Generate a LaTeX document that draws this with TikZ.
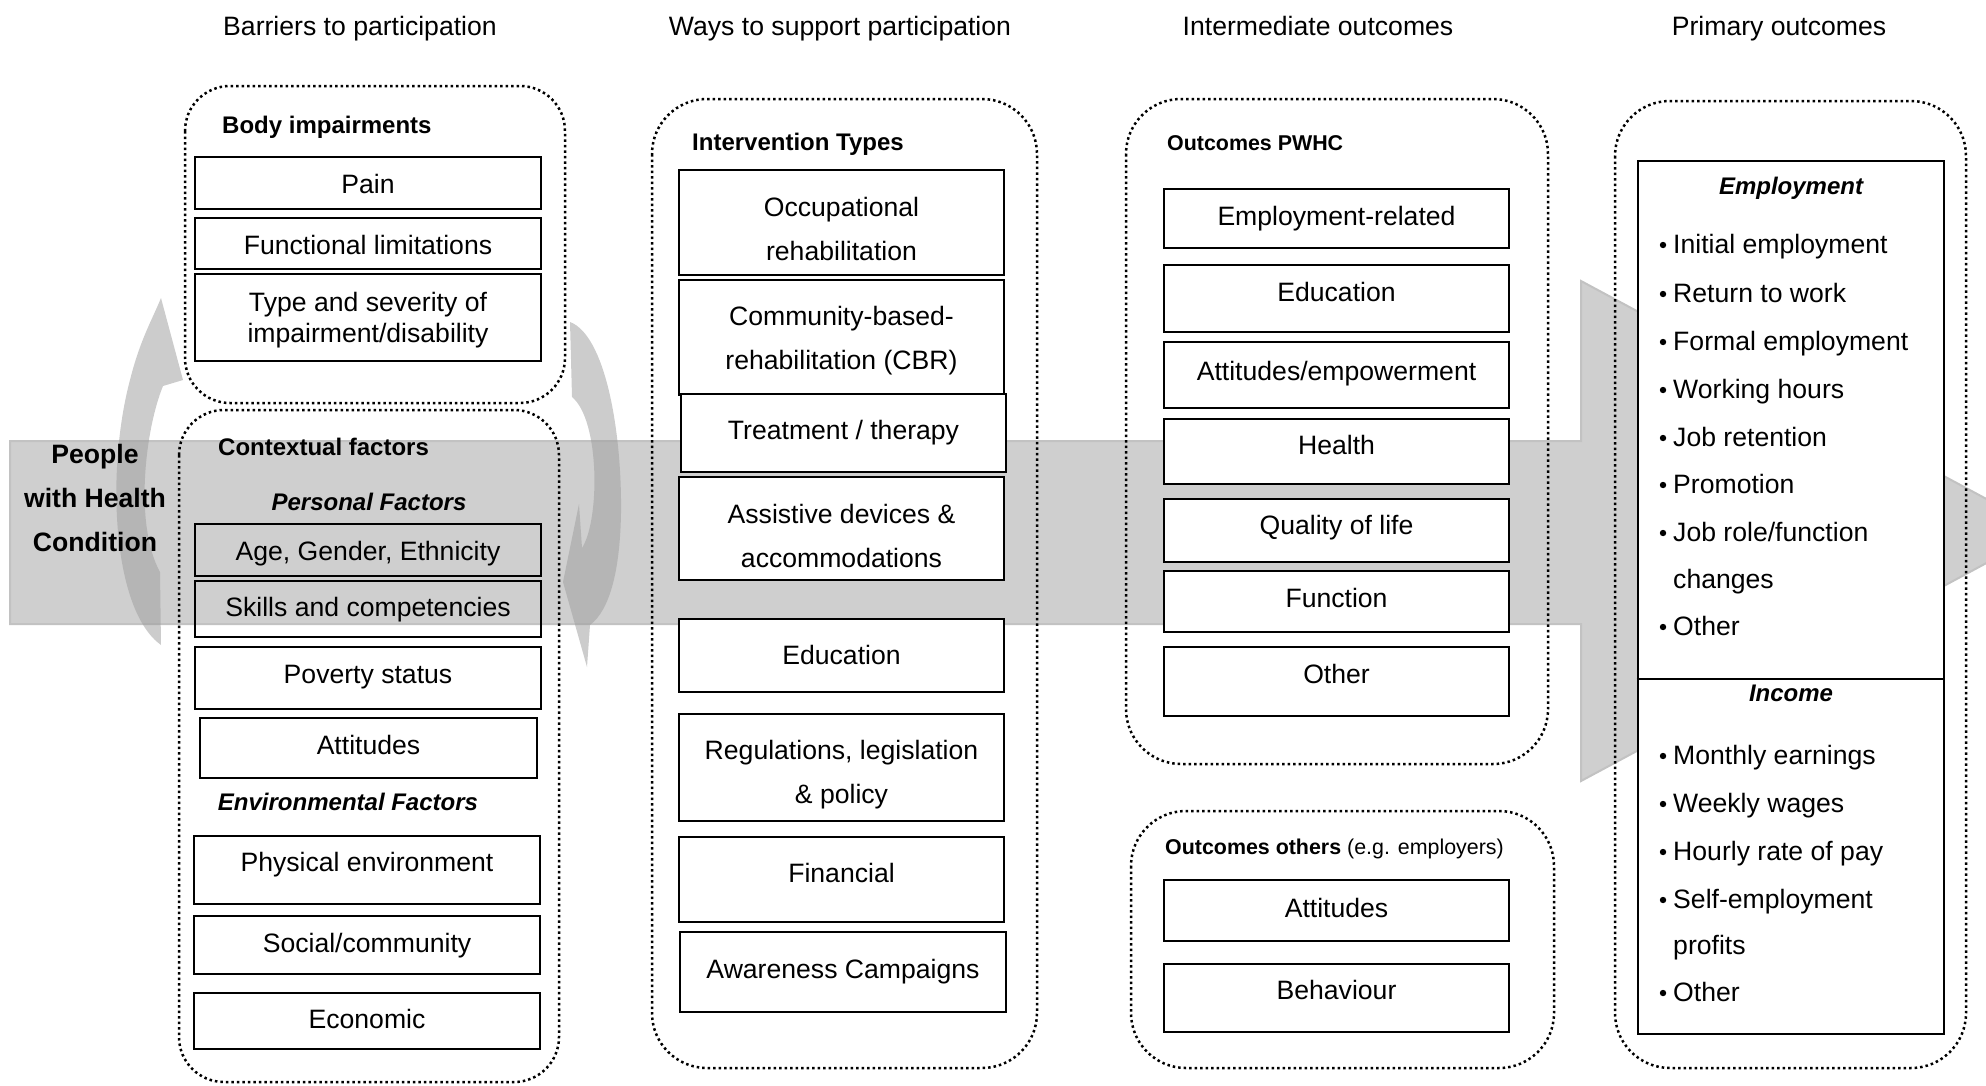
\documentclass[tikz,border=0pt]{standalone}
\usepackage{fontspec}
\setmainfont{Liberation Sans}

\newcommand{\fbody}{\fontsize{26.6}{44}\selectfont}
\newcommand{\fhead}{\fontsize{24}{29}\selectfont\bfseries}
\newcommand{\fsmall}{\fontsize{21.4}{26}\selectfont}

\tikzset{
  box/.style={draw, line width=2.8pt, fill=white, align=center, inner sep=0pt, font=\fbody},
  sline/.style={text height=19pt, text depth=5.6pt},
  txt/.style={font=\fbody, align=center, inner sep=0pt},
  grp/.style={draw, line width=2.5pt, dash pattern=on 2.5pt off 3pt, rounded corners=#1},
  grp/.default=55pt,
  hdr/.style={font=\fbody, inner sep=0pt, text height=19pt, text depth=5.6pt},
  lbl/.style={font=\fhead, inner sep=0pt, anchor=west, text height=17.5pt, text depth=5pt},
  sub/.style={font=\fhead\itshape, inner sep=0pt, text height=17.5pt, text depth=5pt},
  item/.style={font=\fbody, inner sep=0pt, anchor=west, text height=19pt, text depth=5.6pt},
  bigarrow/.style={fill=black!19, draw=black!24, line width=2pt},
  curvarrow/.style={fill=black!38, fill opacity=0.53},
}

\begin{document}
\begin{tikzpicture}[x=1pt,y=-1pt]
\clip (0,0) rectangle (1986,1085);

% background arrow
\filldraw[bigarrow] (10,441) -- (1581,441) -- (1581,281) -- (2046,531) -- (1581,781) -- (1581,624) -- (10,624) -- cycle;

% curved arrows
\fill[curvarrow] (161,298) -- (183,380) -- (163,386)
  .. controls (145,430) and (134,525) .. (160,572) -- (161,645)
  .. controls (112,610) and (106,470) .. (130,380)
  .. controls (140,340) and (152,320) .. (161,298) -- cycle;
\fill[curvarrow] (570,322) .. controls (605,335) and (622,430) .. (621,513)
  .. controls (620,570) and (610,610) .. (590,625)
  -- (587,667) -- (563,582) -- (579,504) -- (582,548)
  .. controls (600,520) and (600,420) .. (572,397) -- cycle;

\node[font=\fbody\bfseries, align=center, inner sep=0pt] (people) at (95,498) {People\\with Health\\Condition};

% column titles
\node[hdr] (t1) at (360,28.5) {Barriers to participation};
\node[hdr] (t2) at (840,28.5) {Ways to support participation};
\node[hdr] (t3) at (1318,28.5) {Intermediate outcomes};
\node[hdr] (t4) at (1779,28.5) {Primary outcomes};

% barriers
\draw[grp=45pt] (185,86) rectangle (565,403);
\draw[grp=45pt] (179,410) rectangle (559,1082);
\node[lbl] (bodyimp) at (222,127.5) {Body impairments};
\node[box, sline, minimum width=346pt, minimum height=52pt] (pain) at (368,183) {\raisebox{-4pt}{Pain}};
\node[box, sline, minimum width=346pt, minimum height=51pt] (funclim) at (368,243.5) {\raisebox{-4pt}{Functional limitations}};
\node[box, minimum width=346pt, minimum height=87pt] (typesev) at (368,317.5) {};
\node[txt, font=\fontsize{26.6}{30.5}\selectfont] (typesevt) at (368,320) {Type and severity of\\impairment/disability};
\node[lbl] (context) at (218,449.5) {Contextual factors};
\node[sub] (personal) at (369,504.5) {Personal Factors};
\node[box, sline, fill=none, minimum width=346pt, minimum height=52pt] (agegen) at (368,550) {\raisebox{-4pt}{Age, Gender, Ethnicity}};
\node[box, sline, fill=none, minimum width=346pt, minimum height=56pt] (skills) at (368,609) {\raisebox{-1pt}{Skills and competencies}};
\node[box, sline, minimum width=346pt, minimum height=62pt] (poverty) at (368,678) {\raisebox{1pt}{Poverty status}};
\node[box, sline, minimum width=337pt, minimum height=60pt] (attit) at (368.5,748) {Attitudes};
\node[sub] (environ) at (348,804.5) {Environmental Factors};
\node[box, sline, minimum width=346pt, minimum height=68pt] (physenv) at (367,870) {\raisebox{5pt}{Physical environment}};
\node[box, sline, minimum width=346pt, minimum height=58pt] (social) at (367,945) {\raisebox{-1pt}{Social/community}};
\node[box, sline, minimum width=346pt, minimum height=56pt] (econ) at (367,1021) {\raisebox{-1pt}{Economic}};

% ways to support
\draw[grp] (652,99) rectangle (1037,1068);
\node[lbl] (intervtypes) at (692,144.5) {Intervention Types};
\node[box, minimum width=325pt, minimum height=105pt] (occup) at (841.5,222.5) {};
\node[txt] (occupt) at (841.5,228.5) {Occupational\\rehabilitation};
\node[box, minimum width=325pt, minimum height=115pt] (cbr) at (841.5,337.5) {};
\node[txt] (cbrt) at (841.5,341) {Community-based-\\rehabilitation (CBR)};
\node[box, sline, minimum width=325pt, minimum height=78pt] (treat) at (843.5,433) {Treatment / therapy};
\node[box, minimum width=325pt, minimum height=103pt] (assist) at (841.5,528.5) {};
\node[txt] (assistt) at (841.5,536) {Assistive devices \&\\accommodations};
\node[box, sline, minimum width=325pt, minimum height=73pt] (educ) at (841.5,655.5) {\raisebox{-2.5pt}{Education}};
\node[box, minimum width=325pt, minimum height=107pt] (regul) at (841.5,767.5) {};
\node[txt] (regult) at (841.5,774.5) {Regulations, legislation\\\& policy};
\node[box, sline, minimum width=325pt, minimum height=85pt] (finance) at (841.5,879.5) {\raisebox{4pt}{Financial}};
\node[box, sline, minimum width=326pt, minimum height=80pt] (aware) at (843,972) {Awareness Campaigns};

% intermediate outcomes
\draw[grp] (1126,99) rectangle (1548,764);
\node[lbl, font=\fsmall\bfseries, text height=15.5pt, text depth=4.5pt] (pwhc) at (1167,144.5) {Outcomes PWHC};
\node[box, sline, minimum width=345pt, minimum height=59pt] (emprel) at (1336.5,218.5) {Employment-related};
\node[box, sline, minimum width=345pt, minimum height=67pt] (educo) at (1336.5,298.5) {\raisebox{4pt}{Education}};
\node[box, sline, minimum width=345pt, minimum height=66pt] (attemp) at (1336.5,375) {\raisebox{1pt}{Attitudes/empowerment}};
\node[box, sline, minimum width=345pt, minimum height=65pt] (health) at (1336.5,451.5) {\raisebox{4pt}{Health}};
\node[box, sline, minimum width=345pt, minimum height=63pt] (qol) at (1336.5,530.5) {\raisebox{2.5pt}{Quality of life}};
\node[box, sline, minimum width=345pt, minimum height=61pt] (funct) at (1336.5,601.5) {\raisebox{1pt}{Function}};
\node[box, sline, minimum width=345pt, minimum height=69pt] (othero) at (1336.5,681.5) {\raisebox{5pt}{Other}};
\draw[grp] (1131,811) rectangle (1554,1068);
\node[lbl, font=\fsmall, text height=15.5pt, text depth=4.5pt] (others) at (1165,848.5) {\textbf{Outcomes others} (e.g. employers)};
\node[box, sline, minimum width=345pt, minimum height=61pt] (attito) at (1336.5,910.5) {Attitudes};
\node[box, sline, minimum width=345pt, minimum height=68pt] (behav) at (1336.5,998) {\raisebox{5pt}{Behaviour}};

% primary outcomes
\draw[grp] (1615,101) rectangle (1966,1068);
\node[box, minimum width=306pt, minimum height=873pt] (prim) at (1791,597.5) {};
\draw[line width=2.8pt] (prim.west |- 0,679) -- (prim.east |- 0,679);
\node[sub] (employ) at (1791,188.5) {Employment};
\node[sub] (income) at (1791,695.5) {Income};
\foreach \itm/\yy/\b [count=\i] in {Initial employment/244/1, Return to work/293/1, Formal employment/341/1,
    Working hours/389/1, Job retention/437/1, Promotion/484/1, {Job role/function}/532/1, changes/579/0, Other/626/1,
    Monthly earnings/755/1, Weekly wages/803/1, Hourly rate of pay/851/1, Self-employment/899/1, profits/945/0, Other/992/1}{
  \node[item] (out\i) at (1673,\yy+2.5) {\itm};
  \ifnum\b=1 \fill (1663,\yy+1) circle (3.2pt); \fi
}
\end{tikzpicture}
\end{document}
